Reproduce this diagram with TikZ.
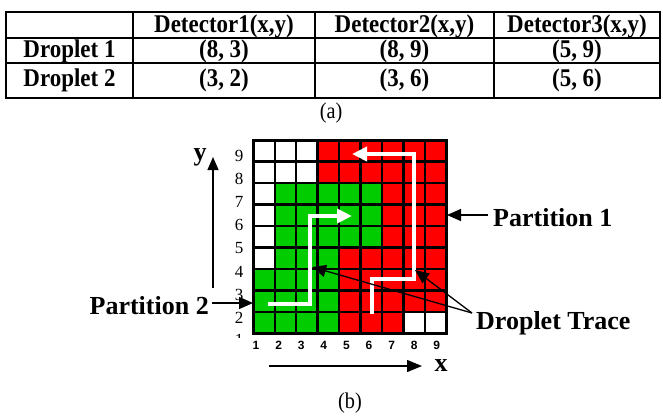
\documentclass[tikz,border=0pt]{standalone}
\usepackage{fontspec}
\setmainfont{Liberation Serif}
\newfontfamily\condserif[FakeStretch=0.9]{Liberation Serif}
\newfontfamily\lsans{Liberation Sans}
\usetikzlibrary{arrows.meta}
\definecolor{gr}{RGB}{0,204,0}
\definecolor{rd}{RGB}{255,0,0}
\begin{document}
\begin{tikzpicture}[x=1pt,y=-1pt,
  lbl/.style={font=\fontsize{26}{30}\selectfont\bfseries, inner sep=0pt},
  tbl/.style={font=\condserif\fontsize{25.5}{30}\selectfont\bfseries, inner sep=0pt},
  ylab/.style={font=\fontsize{17}{20}\selectfont, inner sep=0pt},
  xlab/.style={font=\lsans\fontsize{12}{14}\selectfont\bfseries, inner sep=0pt},
  capt/.style={font=\condserif\fontsize{22.5}{26}\selectfont, inner sep=0pt},
  blk/.style={line width=1.3pt, -{Triangle[length=14pt,width=12pt]}},
  trace/.style={white, line width=4pt, -{Triangle[length=15pt,width=14pt]}},
  gridln/.style={line width=2.5pt, line cap=rect},
  tline/.style={line width=2pt, line cap=rect}]
\useasboundingbox (0,0) rectangle (663,416);
% ---- table (a)
\foreach \x in {6,133,315,494,660} \draw[tline] (\x,12) -- (\x,98);
\foreach \y in {12,38,63,98} \draw[tline] (6,\y) -- (660,\y);
\node[tbl] (h1) at (224,26) {Detector1(x,y)};
\node[tbl] (h2) at (404.5,26) {Detector2(x,y)};
\node[tbl] (h3) at (577,26) {Detector3(x,y)};
\node[tbl] (r1) at (69.5,51) {Droplet 1};
\node[tbl] (r2) at (69.5,80.5) {Droplet 2};
\node[tbl] (c11) at (224,51) {(8, 3)};
\node[tbl] (c12) at (404.5,51) {(8, 9)};
\node[tbl] (c13) at (577,51) {(5, 9)};
\node[tbl] (c21) at (224,80.5) {(3, 2)};
\node[tbl] (c22) at (404.5,80.5) {(3, 6)};
\node[tbl] (c23) at (577,80.5) {(5, 6)};
\node[capt] (capa) at (331,113) {(a)};
% ---- grid (b)
\fill[rd] (253.3,140.25) rectangle (446.35,333.3);
\fill[white] (253.3,140.25) rectangle (317.65,183.15);
\fill[white] (253.3,183.15) rectangle (274.75,268.95);
\fill[white] (403.45,311.85) rectangle (446.35,333.3);
\fill[gr] (274.75,183.15) rectangle (382.0,247.5);
\fill[gr] (274.75,247.5) rectangle (339.1,268.95);
\fill[gr] (253.3,268.95) rectangle (339.1,333.3);
\foreach \i in {0,...,9} {
  \draw[gridln] ({253.3+21.45*\i},140.25) -- ({253.3+21.45*\i},333.3);
  \draw[gridln] (253.3,{140.25+21.45*\i}) -- (446.35,{140.25+21.45*\i});
}
% droplet traces
\coordinate (d2s) at (268,304);
\coordinate (d2a) at (310,304);
\coordinate (d2b) at (310,216);
\coordinate (d2e) at (352,216);
\draw[trace] (d2s) -- (d2a) -- (d2b) -- (d2e);
\coordinate (d1s) at (372,314);
\coordinate (d1a) at (372,279);
\coordinate (d1b) at (414,279);
\coordinate (d1c) at (414,154);
\coordinate (d1e) at (352,154);
\draw[trace] (d1s) -- (d1a) -- (d1b) -- (d1c) -- (d1e);
% axis labels
\foreach \n [count=\k from 0] in {9,8,7,6,5,4,3,2}
  \node[ylab] (yl\n) at (239,{156+23.1*\k}) {\n};
\begin{scope}
  \clip (220,320) rectangle (260,337.5);
  \node[ylab] (yl1) at (239,340) {1};
\end{scope}
\foreach \n in {1,...,9}
  \node[xlab] (xl\n) at ({256+22.6*(\n-1)},345) {\n};
% axes
\coordinate (yb) at (213,288);
\coordinate (yt) at (213,157);
\draw[blk, -{Triangle[length=13pt,width=11pt]}] (yb) -- (yt);
\node[lbl] (ylab) at (200,157) {y};
\coordinate (xb) at (269,366);
\coordinate (xt) at (422,366);
\draw[blk, -{Triangle[length=15pt,width=12pt]}] (xb) -- (xt);
\node[lbl] (xlab) at (441,366) {x};
% partitions
\node[lbl, anchor=west] (p1) at (493,217.5) {Partition 1};
\coordinate (p1t) at (488,215);
\coordinate (p1h) at (447,215);
\draw[blk] (p1t) -- (p1h);
\node[lbl, anchor=east] (p2) at (209,305.5) {Partition 2};
\coordinate (p2t) at (212,303);
\coordinate (p2h) at (253,303);
\draw[blk] (p2t) -- (p2h);
% droplet trace callout
\node[lbl, anchor=west] (dtt) at (476,323) {Droplet Trace};
\coordinate (dj) at (472,313);
\coordinate (t1) at (415,270);
\coordinate (t2) at (312,267);
\draw[blk] (dj) -- (t1);
\draw[blk] (dj) -- (t2);
\node[capt] (capb) at (350,403) {(b)};
\end{tikzpicture}
\end{document}
